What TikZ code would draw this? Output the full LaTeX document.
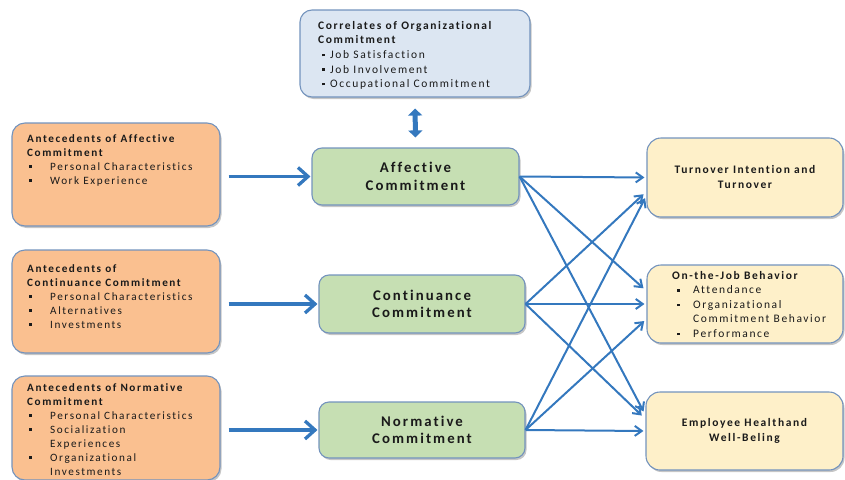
\documentclass[tikz,border=0pt]{standalone}
\usepackage{fontspec}
\setmainfont{Carlito}[LetterSpace=14,Ligatures=NoCommon]
\usetikzlibrary{arrows.meta,shadows}
\definecolor{orangef}{HTML}{FAC090}
\definecolor{greenf}{HTML}{C6DFB3}
\definecolor{creamf}{HTML}{FEF0C9}
\definecolor{bluef}{HTML}{DCE6F2}
\definecolor{bordc}{HTML}{7393BD}
\definecolor{arrc}{HTML}{3478BE}
\definecolor{txtc}{HTML}{1A1A1A}
\newcommand\bitem[3]{\makebox[#2][l]{\hspace{#1}\rule[2.2pt]{2.5pt}{2.5pt}}#3}
\newcommand\bcont[2]{\hspace{#1}#2}
\begin{document}
\begin{tikzpicture}[x=1pt,y=-1pt,
  boxbase/.style={draw=bordc, line width=1.1pt, inner sep=0pt,
    drop shadow={shadow xshift=1.5pt,shadow yshift=-2pt,fill=black!50,opacity=0.45}},
  lbox/.style={boxbase, fill=orangef, rounded corners=13pt, minimum width=208pt},
  cbox/.style={boxbase, fill=bluef, rounded corners=12pt},
  mbox/.style={boxbase, fill=greenf, rounded corners=10pt, align=center, text=txtc,
    font=\fontsize{14.8}{17.5}\selectfont\bfseries},
  rbox/.style={boxbase, fill=creamf, rounded corners=14pt, align=center, text=txtc,
    minimum width=196pt, font=\fontsize{11.5}{15}\selectfont\bfseries},
  ltext/.style={anchor=north west, inner sep=0pt, align=left, text=txtc,
    font=\fontsize{11.2}{14}\selectfont},
  bigarrow/.style={draw=arrc, line width=3.3pt, -{Straight Barb[length=10pt,width=18pt]}},
  link/.style={draw=arrc, line width=2pt, -{Straight Barb[length=7pt,width=10pt]}},
  dblarrow/.style={draw=arrc, line width=5pt, {Triangle[length=7pt,width=14pt]}-{Triangle[length=7pt,width=14pt]}}
]
\useasboundingbox (0,0) rectangle (845,479);

% left boxes
\node[lbox, minimum height=103pt] (A1) at (116,174.5) {};
\node[lbox, minimum height=103pt] (A2) at (116,301.5) {};
\node[lbox, minimum height=104pt] (A3) at (116,428) {};

\node[ltext] (A1t) at (27,134) {\textbf{Antecedents of Affective}\\\textbf{Commitment}\\
  \bitem{2pt}{23pt}{Personal Characteristics}\\\bitem{2pt}{23pt}{Work Experience}};
\node[ltext] (A2t) at (27,264) {\textbf{Antecedents of}\\\textbf{Continuance Commitment}\\
  \bitem{2pt}{23pt}{Personal Characteristics}\\\bitem{2pt}{23pt}{Alternatives}\\\bitem{2pt}{23pt}{Investments}};
\node[ltext] (A3t) at (27,383) {\textbf{Antecedents of Normative}\\\textbf{Commitment}\\
  \bitem{2pt}{23pt}{Personal Characteristics}\\\bitem{2pt}{23pt}{Socialization}\\\bcont{23pt}{Experiences}\\
  \bitem{2pt}{23pt}{Organizational}\\\bcont{23pt}{Investments}};

% correlates
\node[cbox, minimum width=230pt, minimum height=87pt] (CO) at (415,53.5) {};
\node[ltext, font=\fontsize{11.5}{14.6}\selectfont] (COt) at (318,21) {\textbf{Correlates of Organizational}\\\textbf{Commitment}\\
  \bitem{4pt}{12pt}{Job Satisfaction}\\\bitem{4pt}{12pt}{Job Involvement}\\\bitem{4pt}{12pt}{Occupational Commitment}};

% middle boxes
\node[mbox, minimum width=207pt, minimum height=57pt] (AC) at (415.5,176.5) {Affective\\Commitment};
\node[mbox, minimum width=206pt, minimum height=58pt] (CC) at (422,304) {Continuance\\Commitment};
\node[mbox, minimum width=206pt, minimum height=56pt] (NC) at (422,430) {Normative\\Commitment};

% right boxes
\node[rbox, minimum height=79pt] (TO) at (745,177.5) {Turnover Intention and\\Turnover};
\node[rbox, minimum height=78pt] (OJ) at (745,304) {};
\node[rbox, minimum width=197pt, minimum height=78pt] (EH) at (744.5,431) {Employee Healthand\\Well-Beling};
\node[ltext, font=\fontsize{11.5}{14.5}\selectfont] (OJt) at (672,271) {\textbf{On-the-Job Behavior}\\
  \bitem{5pt}{21pt}{Attendance}\\\bitem{5pt}{21pt}{Organizational}\\\bcont{21pt}{Commitment Behavior}\\\bitem{5pt}{21pt}{Performance}};

% arrows from antecedents
\draw[bigarrow, shorten <=8pt, shorten >=1pt] (A1.east |- AC.west) -- (AC.west);
\draw[bigarrow, shorten <=8pt, shorten >=1pt] (A2.east |- CC.west) -- (CC.west);
\draw[bigarrow, shorten <=8pt, shorten >=1pt] (A3.east |- NC.west) -- (NC.west);

% double arrow
\draw[dblarrow, shorten <=11pt, shorten >=10pt] (CO.south) -- (AC.north);

% links to outcomes
\draw[link, shorten >=2pt] (AC.east) -- (TO.west);
\draw[link, shorten >=4pt] (AC.east) -- ([yshift=13pt]OJ.west);
\draw[link, shorten >=4pt] (AC.east) -- ([yshift=16pt]EH.west);
\draw[link, shorten >=4pt] (CC.east) -- ([yshift=-14pt]TO.west);
\draw[link, shorten >=2pt] (CC.east) -- (OJ.west);
\draw[link, shorten >=5pt] (CC.east) -- ([yshift=12pt]EH.west);
\draw[link, shorten >=3pt] (NC.east) -- ([yshift=-18pt]TO.west);
\draw[link, shorten >=3pt] (NC.east) -- ([yshift=-15pt]OJ.west);
\draw[link, shorten >=2pt] (NC.east) -- (EH.west);
\end{tikzpicture}
\end{document}
